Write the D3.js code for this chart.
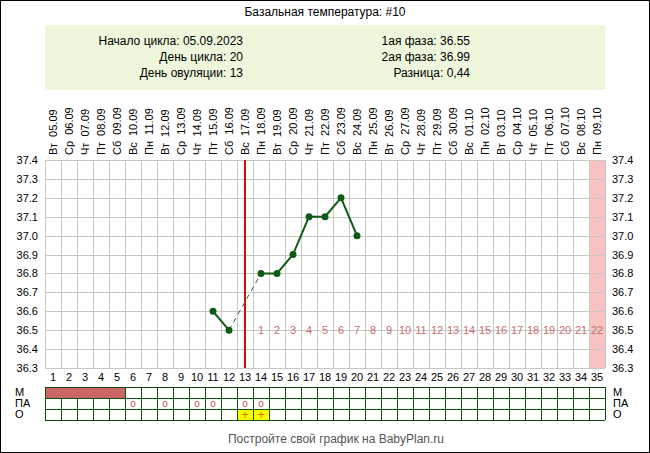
<!DOCTYPE html><html><head><meta charset="utf-8"><script src="https://cdn.jsdelivr.net/npm/d3@7"></script>
<style>body{margin:0;background:#fff}text{font-family:Arial,"Liberation Sans",sans-serif}</style></head><body><svg id="c" width="650" height="453"></svg><script>
const days=d3.range(1,36);
const weekdays=["Вт","Ср","Чт","Пт","Сб","Вс","Пн","Вт","Ср","Чт","Пт","Сб","Вс","Пн","Вт","Ср","Чт","Пт","Сб","Вс","Пн","Вт","Ср","Чт","Пт","Сб","Вс","Пн","Вт","Ср","Чт","Пт","Сб","Вс","Пн"];
const dates=["05.09","06.09","07.09","08.09","09.09","10.09","11.09","12.09","13.09","14.09","15.09","16.09","17.09","18.09","19.09","20.09","21.09","22.09","23.09","24.09","25.09","26.09","27.09","28.09","29.09","30.09","01.10","02.10","03.10","04.10","05.10","06.10","07.10","08.10","09.10"];
const tempSeg1=[{d:11,t:36.6},{d:12,t:36.5}];
const tempSeg2=[{d:14,t:36.8},{d:15,t:36.8},{d:16,t:36.9},{d:17,t:37.1},{d:18,t:37.1},{d:19,t:37.2},{d:20,t:37.0}];
const yTicks=[36.3,36.4,36.5,36.6,36.7,36.8,36.9,37.0,37.1,37.2,37.3,37.4];
const mDays=[1,2,3,4,5], paDays=[6,8,10,11,13,14], oDays=[13,14];
const ovDay=13, lastDay=35;
const svg=d3.select("#c");
svg.append("rect").attr("x",0.5).attr("y",0.5).attr("width",649).attr("height",452).attr("fill","#fff").attr("stroke","#000");
const x=d3.scaleLinear().domain([0.5,35.5]).range([45,605]);
const y=d3.scaleLinear().domain([36.3,37.4]).range([368,160]);
const cw=16;
svg.append("text").attr("x",325).attr("y",16).attr("text-anchor","middle").attr("font-size",12).text("Базальная температура: #10");
svg.append("rect").attr("x",45).attr("y",25).attr("width",560).attr("height",65).attr("fill","#eef7dc");
const hl=[["Начало цикла: 05.09.2023",42],["День цикла: 20",58],["День овуляции: 13",74]];
hl.forEach(h=>svg.append("text").attr("x",243).attr("y",h[1]+3).attr("text-anchor","end").attr("font-size",12).text(h[0]));
const hr=[["1ая фаза: 36.55",42],["2ая фаза: 36.99",58],["Разница: 0,44",74]];
hr.forEach(h=>svg.append("text").attr("x",470).attr("y",h[1]+3).attr("text-anchor","end").attr("font-size",12).text(h[0]));
// date labels
days.forEach((d,i)=>{svg.append("text").attr("transform",`translate(${x(d)+4},155) rotate(-90)`).attr("font-size",11).attr("xml:space","preserve").text(weekdays[i]+"  "+dates[i]);});
// pink last column
svg.append("rect").attr("x",x(lastDay-0.5)).attr("y",160).attr("width",cw).attr("height",208).attr("fill","#f9c3c3");
// grid
const g=svg.append("g").attr("stroke","#c8c8c0").attr("stroke-width",1);
d3.range(0.5,36,1).forEach(v=>g.append("line").attr("x1",x(v)+0.5).attr("x2",x(v)+0.5).attr("y1",160).attr("y2",368));
yTicks.forEach(t=>g.append("line").attr("x1",45).attr("x2",605).attr("y1",Math.round(y(t))+0.5).attr("y2",Math.round(y(t))+0.5));
// y labels
yTicks.forEach(t=>{svg.append("text").attr("x",38).attr("y",y(t)+4).attr("text-anchor","end").attr("font-size",11).text(t.toFixed(1));
svg.append("text").attr("x",612).attr("y",y(t)+4).attr("font-size",11).text(t.toFixed(1));});
// day numbers
days.forEach(d=>svg.append("text").attr("x",x(d)).attr("y",381).attr("text-anchor","middle").attr("font-size",11).text(d));
// phase numbers
days.filter(d=>d>ovDay).forEach(d=>svg.append("text").attr("x",x(d)).attr("y",y(36.5)+4).attr("text-anchor","middle").attr("font-size",11).attr("fill","#c87070").text(d-ovDay));
// ovulation line
svg.append("line").attr("x1",x(ovDay)).attr("x2",x(ovDay)).attr("y1",160).attr("y2",368).attr("stroke","#d01010").attr("stroke-width",2);
// lines
const line=d3.line().x(p=>x(p.d)).y(p=>y(p.t));
svg.append("path").attr("d",line([tempSeg1[1],tempSeg2[0]])).attr("fill","none").attr("stroke","#2a6a2a").attr("stroke-dasharray","5,4");
[tempSeg1,tempSeg2].forEach(s=>{svg.append("path").attr("d",line(s)).attr("fill","none").attr("stroke","#0f5a14").attr("stroke-width",2);
s.forEach(p=>svg.append("circle").attr("cx",x(p.d)).attr("cy",y(p.t)).attr("r",3.5).attr("fill","#0f5a14"));});
// bottom table
const rows=[387,398,409,420];
mDays.forEach(d=>svg.append("rect").attr("x",x(d-0.5)).attr("y",387).attr("width",cw).attr("height",11).attr("fill","#cc6666"));
oDays.forEach(d=>svg.append("rect").attr("x",x(d-0.5)).attr("y",409).attr("width",cw).attr("height",11).attr("fill","#ffff00"));
paDays.forEach(d=>svg.append("text").attr("x",x(d)).attr("y",407).attr("text-anchor","middle").attr("font-size",10).attr("fill","#d05050").text("o"));
oDays.forEach(d=>svg.append("text").attr("x",x(d)).attr("y",419).attr("text-anchor","middle").attr("font-size",12).attr("fill","#c87020").text("+"));
const tg=svg.append("g").attr("stroke","#0b4f0b");
rows.forEach(r=>tg.append("line").attr("x1",45).attr("x2",605).attr("y1",r+0.5).attr("y2",r+0.5));
d3.range(0.5,36,1).forEach(v=>{if(v>0.5&&v<5.5)return;tg.append("line").attr("x1",x(v)+0.5).attr("x2",x(v)+0.5).attr("y1",387).attr("y2",420);});
d3.range(1.5,5.5,1).forEach(v=>tg.append("line").attr("x1",x(v)+0.5).attr("x2",x(v)+0.5).attr("y1",398).attr("y2",420));
[["М",396],["ПА",407],["О",418]].forEach(l=>{svg.append("text").attr("x",15).attr("y",l[1]).attr("font-size",11).text(l[0]);svg.append("text").attr("x",613).attr("y",l[1]).attr("font-size",11).text(l[0]);});
svg.append("text").attr("x",336).attr("y",443).attr("text-anchor","middle").attr("font-size",12).attr("fill","#555").text("Постройте свой график на BabyPlan.ru");
</script></body></html>
